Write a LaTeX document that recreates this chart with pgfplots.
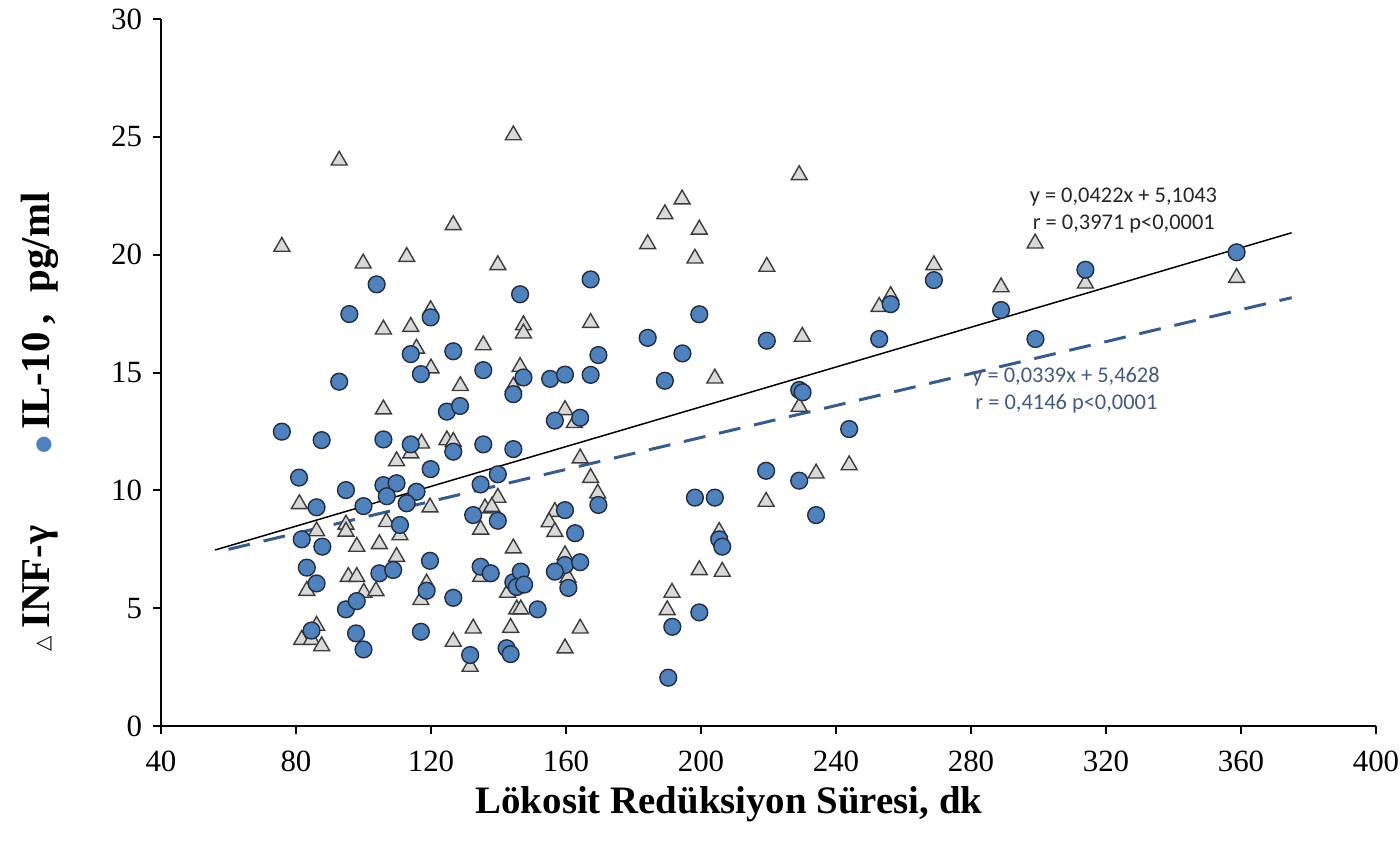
\documentclass[border=0pt]{standalone}
\usepackage{pgfplots}
\pgfplotsset{compat=1.18}
\usepackage{fontspec}
\setmainfont{Liberation Serif}
\newfontfamily\calibri{Carlito}
\newfontfamily\djv{DejaVu Sans}
\definecolor{circfill}{RGB}{79,129,189}
\definecolor{circedge}{RGB}{35,45,65}
\definecolor{trifill}{RGB}{217,217,217}
\definecolor{triedge}{RGB}{60,60,60}
\definecolor{dashblue}{RGB}{56,93,138}
\definecolor{txtblue}{RGB}{68,90,125}
\definecolor{txtdark}{RGB}{38,38,38}

\pgfplotstableread{
x y
144.4 25.07
92.8 24.0
126.6 21.26
75.8 20.34
99.9 19.63
112.8 19.91
139.8 19.56
119.9 17.65
105.9 16.83
114.0 16.94
147.4 17.01
147.4 16.66
115.7 16.02
135.5 16.16
120.0 15.18
146.4 15.24
128.7 14.43
144.4 14.40
105.9 13.44
159.7 13.41
162.5 12.86
117.2 11.99
114.0 11.57
124.7 12.13
126.6 12.06
109.8 11.24
164.2 11.36
167.3 10.53
169.4 9.87
81.0 9.42
119.7 9.28
139.8 9.69
136.0 9.24
138.0 9.30
94.8 8.55
94.8 8.25
86.1 8.27
106.8 8.66
110.8 8.10
98.0 7.61
104.7 7.72
134.7 8.34
156.7 9.09
155.0 8.65
156.7 8.24
144.4 7.54
109.8 7.18
83.2 5.74
95.5 6.33
98.0 6.33
100.1 5.66
103.7 5.73
118.7 6.05
117.0 5.35
134.7 6.33
142.7 5.66
145.4 4.95
146.6 4.95
132.5 4.14
143.6 4.17
126.6 3.58
159.7 3.30
164.2 4.14
131.6 2.52
81.7 3.66
84.6 3.66
87.6 3.39
86.1 4.26
159.7 7.25
160.6 6.30
229.1 23.38
194.4 22.35
189.3 21.72
199.5 21.07
184.2 20.45
198.2 19.84
219.5 19.49
167.3 17.11
256.2 18.25
252.8 17.79
230.0 16.52
204.1 14.75
229.1 13.55
243.9 11.07
234.1 10.72
219.3 9.52
205.4 8.24
199.5 6.62
206.3 6.55
191.4 5.66
190.0 4.92
269.0 19.56
288.9 18.62
299.0 20.48
313.9 18.78
358.7 19.02
}\inf

\pgfplotstableread{
x y
103.9 18.74
95.8 17.48
146.4 18.32
167.3 18.95
119.9 17.34
114.0 15.78
126.6 15.90
135.5 15.10
117.0 14.93
147.4 14.79
155.3 14.73
159.7 14.91
167.3 14.90
92.8 14.61
144.4 14.08
124.7 13.34
128.6 13.58
156.7 12.96
164.2 13.08
75.8 12.49
87.6 12.13
105.9 12.16
114.0 11.95
126.6 11.64
135.5 11.95
144.4 11.75
119.9 10.90
80.9 10.54
94.8 10.01
105.9 10.22
109.8 10.30
106.9 9.75
115.7 9.94
112.8 9.45
134.7 10.25
139.8 10.68
86.1 9.28
100.0 9.33
132.5 8.95
139.8 8.71
81.7 7.92
87.8 7.61
110.8 8.53
159.7 9.16
162.7 8.18
119.7 7.01
83.2 6.72
86.1 6.05
104.7 6.48
108.8 6.62
94.8 4.95
98.0 5.30
118.7 5.74
126.6 5.44
134.7 6.76
137.7 6.48
144.4 6.10
146.6 6.55
145.4 5.90
147.6 6.00
151.6 4.95
131.6 3.01
142.4 3.30
143.6 3.05
117.0 4.00
97.8 3.93
100.0 3.25
84.6 4.05
159.7 6.83
160.7 5.86
156.7 6.55
164.2 6.95
169.6 9.38
199.5 17.47
184.2 16.47
194.5 15.81
219.5 16.35
252.8 16.42
256.2 17.90
169.6 15.74
189.3 14.65
229.1 14.26
230.1 14.16
243.9 12.60
219.3 10.83
229.1 10.41
234.1 8.95
198.2 9.69
204.1 9.69
205.4 7.92
206.3 7.61
199.5 4.82
191.5 4.21
190.3 2.05
269.0 18.92
288.9 17.65
299.1 16.42
313.9 19.36
358.7 20.10
}\il

\begin{document}
\begin{tikzpicture}
\begin{axis}[
  scale only axis, width=607.5bp, height=353.5bp,
  at={(0,0)}, anchor=south west,
  xmin=40, xmax=400, ymin=0, ymax=30,
  axis x line*=bottom, axis y line*=left,
  axis line style={-, line width=1.2bp, black},
  xtick={40,80,...,400}, ytick={0,5,...,30},
  minor tick num=0,
  tick align=outside, major tick length=4bp,
  tick style={black, line width=1bp},
  ticklabel style={font=\fontsize{15.5}{15.5}\selectfont},
  xticklabel style={yshift=-5bp},
  yticklabel style={xshift=-2bp},
  /pgf/number format/assume math mode=true,
  clip=false,
  xlabel={\fontsize{19.5}{19.5}\selectfont\bfseries Lökosit Redüksiyon Süresi, dk},
  xlabel style={at={(axis description cs:0.4675,-0.11)}, anchor=center},
  ylabel={\fontsize{20.5}{20.5}\selectfont\bfseries {\djv\fontsize{10}{10}\selectfont △}\hspace{4bp}INF-γ\hspace{36bp}{\djv\fontsize{10}{10}\selectfont\textcolor{circfill}{●}}\hspace{3bp}IL-10\hspace{4bp},\hspace{11bp}pg/ml},
  ylabel style={at={(axis description cs:-0.1,0.43)}, anchor=center},
]
\addplot[black, line width=0.75bp] coordinates {(56,7.467) (375,20.929)};
\addplot[dashblue, line width=1.5bp, dash pattern=on 11bp off 7bp] coordinates {(60,7.497) (375,18.175)};
\addplot[only marks, mark=triangle*, mark size=4.6bp, mark options={fill=trifill, draw=triedge, line width=0.7bp}] table[x=x,y=y] {\inf};
\addplot[only marks, mark=*, mark size=4.2bp, mark options={fill=circfill, draw=circedge, line width=0.7bp}] table[x=x,y=y] {\il};
\node[anchor=west, inner sep=0, text=txtdark, font=\calibri\fontsize{11.25}{13}\selectfont] at (axis cs:297.3,22.44) {y = 0,0422x + 5,1043};
\node[anchor=west, inner sep=0, text=txtdark, font=\calibri\fontsize{11.25}{13}\selectfont] at (axis cs:298.2,21.3) {r = 0,3971 p<0,0001};
\node[anchor=west, inner sep=0, text=txtblue, font=\calibri\fontsize{11.25}{13}\selectfont] at (axis cs:280.3,14.81) {y = 0,0339x + 5,4628};
\node[anchor=west, inner sep=0, text=txtblue, font=\calibri\fontsize{11.25}{13}\selectfont] at (axis cs:281.2,13.66) {r = 0,4146 p<0,0001};
\end{axis}
\pgfresetboundingbox
\path[use as bounding box] (-80.5bp,-61bp) rectangle (619.5bp,363bp);
\end{tikzpicture}
\end{document}
